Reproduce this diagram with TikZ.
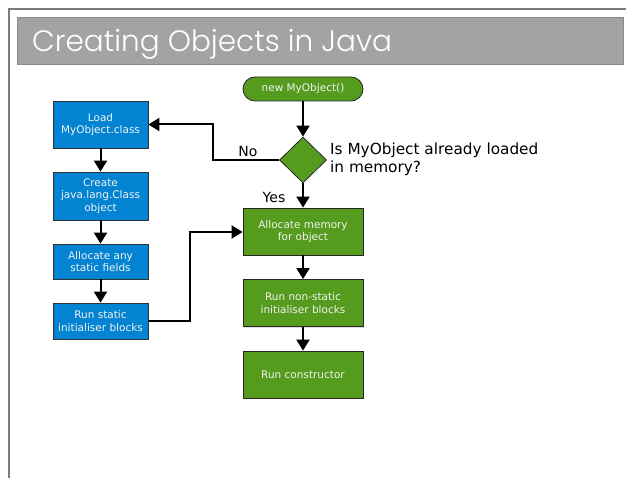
\documentclass[tikz,border=0pt]{standalone}
\usepackage{fontspec}
\setmainfont{DejaVu Sans}
\newfontfamily\titlefont{Poppins Light}
\usetikzlibrary{shapes.geometric,arrows.meta,shadows}
\definecolor{boxblue}{HTML}{0284D2}
\definecolor{boxgreen}{HTML}{559B1D}
\definecolor{barfill}{HTML}{A3A3A3}
\definecolor{barline}{HTML}{8A8A8A}
\definecolor{frameline}{HTML}{7A7A7A}
\definecolor{softwhite}{HTML}{F2F2F2}
\tikzset{
  bluebox/.style={draw=black!80, line width=0.8pt, fill=boxblue, text=softwhite,
    minimum width=95pt, align=center, font=\fontsize{10.5}{12.5}\selectfont, inner sep=0pt},
  greenbox/.style={draw=black!85, line width=0.8pt, fill=boxgreen, text=softwhite,
    minimum width=120pt, minimum height=47pt, align=center, font=\fontsize{10.5}{12.5}\selectfont, inner sep=0pt,
    drop shadow={shadow xshift=1pt, shadow yshift=-1pt, fill=black!15, opacity=1}},
  conn/.style={line width=2pt, -{Triangle[length=11pt,width=13pt]}},
  lbl/.style={font=\fontsize{14}{16}\selectfont, text=black, inner sep=0pt}
}
\begin{document}
\begin{tikzpicture}[x=1pt,y=-1pt]
\useasboundingbox (0,0) rectangle (626,478);
% frame
\draw[frameline, line width=1.5pt] (9,478) -- (9,9) -- (626,9);
\draw[barline, line width=1pt, fill=barfill] (17,18) rectangle (623,65);
\node[anchor=base west, text=white, font=\titlefont\fontsize{29.5}{31}\selectfont, inner sep=0pt] (title) at (32,52) {Creating Objects in Java};

% blue column
\node[bluebox, minimum height=47pt] (load) at (100.5,124.5) {Load\\MyObject.class};
\node[bluebox, minimum height=48pt] (create) at (100.5,196) {Create\\java.lang.Class\\object};
\node[bluebox, minimum height=35pt] (alloc) at (100.5,261.5) {Allocate any\\static fields};
\node[bluebox, minimum height=36pt] (runstatic) at (100.5,321) {Run static\\initialiser blocks};

% green column
\node[draw=black!85, line width=0.8pt, fill=boxgreen, text=softwhite, rounded corners=12pt,
  minimum width=120pt, minimum height=24pt, inner sep=0pt, font=\fontsize{10.5}{12.5}\selectfont] (start) at (303,89) {new MyObject()};
\node[diamond, draw=black!85, line width=0.8pt, fill=boxgreen, minimum width=47pt, minimum height=46pt, inner sep=0pt] (dec) at (303,160) {};
\node[greenbox] (allocmem) at (303,231.5) {Allocate memory\\for object};
\node[greenbox] (nonstatic) at (303,303) {Run non-static\\initialiser blocks};
\node[greenbox] (ctor) at (303,374.5) {Run constructor};

% labels
\node[lbl, anchor=west, align=left, font=\fontsize{15.3}{18}\selectfont] (q) at (330,159) {Is MyObject already loaded\\in memory?};
\node[lbl] (no) at (248,151) {No};
\node[lbl] (yes) at (274,197) {Yes};

% connectors
\draw[conn] (load) -- (create);
\draw[conn] (create) -- (alloc);
\draw[conn] (alloc) -- (runstatic);
\draw[conn] (start) -- (dec);
\draw[conn] (dec) -- (allocmem);
\draw[conn] (allocmem) -- (nonstatic);
\draw[conn] (nonstatic) -- (ctor);
\draw[conn] (dec.west) -- (213,160) -- (213,124.5) -- (load.east);
\draw[conn] (runstatic.east) -- (190,321) -- (190,232) -- (allocmem.west |- 0,232);
\end{tikzpicture}
\end{document}
